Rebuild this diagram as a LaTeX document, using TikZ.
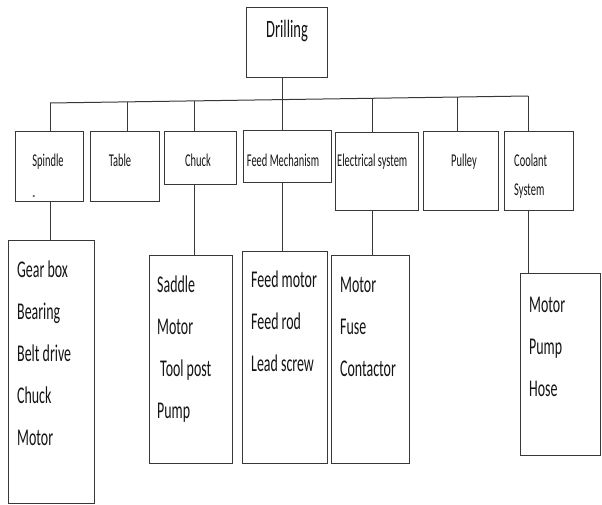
\documentclass[tikz,border=0pt]{standalone}
\usepackage{fontspec}
\usepackage{graphicx}
\setmainfont{Carlito}
\newcommand\sq[1]{\scalebox{0.58}[1]{#1}}
\tikzset{
  box/.style={draw=black!78, line width=1pt, rectangle, inner sep=0pt,
    append after command={[draw=black!55, line width=1.3pt]
      ([yshift=-1pt]\tikzlastnode.south west) -- ([yshift=-1pt]\tikzlastnode.south east)}},
  link/.style={draw=black!78, line width=1pt},
  topt/.style={text=black!92, inner sep=0pt, font=\fontsize{25}{30}\selectfont},
  lvone/.style={text=black!92, inner sep=0pt, font=\fontsize{18}{22}\selectfont},
  lvtwo/.style={text=black!92, inner sep=0pt, font=\fontsize{24}{29}\selectfont, anchor=base west},
}
\begin{document}
\begin{tikzpicture}[x=1pt,y=-1pt]
\useasboundingbox (0,0) rectangle (602,505);
% boxes
\node[box, minimum width=81pt, minimum height=70pt] (drill) at (286.5,43) {};
\node[box, minimum width=68pt, minimum height=70pt] (spindle) at (49,167) {};
\node[box, minimum width=69pt, minimum height=70pt] (table) at (124.5,167) {};
\node[box, minimum width=72pt, minimum height=53pt] (chuck) at (200,158.5) {};
\node[box, minimum width=88pt, minimum height=52pt] (feed) at (287,157) {};
\node[box, minimum width=83pt, minimum height=77pt] (elec) at (376.5,171.5) {};
\node[box, minimum width=75pt, minimum height=78pt] (pulley) at (460.5,171) {};
\node[box, minimum width=69pt, minimum height=78pt] (cool) at (538.5,171) {};
\node[box, minimum width=86pt, minimum height=263pt] (spsub) at (51,371.5) {};
\node[box, minimum width=83pt, minimum height=208pt] (chsub) at (190.5,359) {};
\node[box, minimum width=85pt, minimum height=212pt] (fdsub) at (284.5,357) {};
\node[box, minimum width=78pt, minimum height=208pt] (elsub) at (370,359) {};
\node[box, minimum width=80pt, minimum height=182pt] (clsub) at (560,364) {};
% bus
\coordinate (bsp) at (50,103);
\coordinate (btb) at (127,101.9);
\coordinate (bch) at (194,100.9);
\coordinate (bfd) at (282,99.6);
\coordinate (bel) at (372,98.3);
\coordinate (bpu) at (457,97);
\coordinate (bcl) at (528,96);
\draw[link] (bsp) -- (bcl);
\draw[link] (bfd |- drill.south) -- (bfd);
\draw[link] (bsp) -- (bsp |- spindle.north);
\draw[link] (btb) -- (btb |- table.north);
\draw[link] (bch) -- (bch |- chuck.north);
\draw[link] (bfd) -- (bfd |- feed.north);
\draw[link] (bel) -- (bel |- elec.north);
\draw[link] (bpu) -- (bpu |- pulley.north);
\draw[link] (bcl) -- (bcl |- cool.north);
% drops to sub boxes
\draw[link] (bsp |- spindle.south) -- (bsp |- spsub.north);
\draw[link] (bch |- chuck.south) -- (bch |- chsub.north);
\draw[link] (bfd |- feed.south) -- (bfd |- fdsub.north);
\draw[link] (bel |- elec.south) -- (bel |- elsub.north);
\draw[link] (bcl |- cool.south) -- (bcl |- clsub.north);
% texts
\node[topt, anchor=base] (tdrill) at (287,38) {\sq{Drilling}};
\node[lvone, anchor=base] (tsp) at (48,167) {\sq{Spindle}};
\node[lvone, anchor=base, text=black!60] (tdot) at (34,197) {.};
\node[lvone, anchor=base] (ttb) at (120,167) {\sq{Table}};
\node[lvone, anchor=base] (tch) at (198,167) {\sq{Chuck}};
\node[lvone, anchor=base] (tfd) at (283,167) {\sq{Feed Mechanism}};
\node[lvone, anchor=base west] (tel) at (337,167) {\sq{Electrical system}};
\node[lvone, anchor=base] (tpu) at (464,167) {\sq{Pulley}};
\node[lvone, anchor=base west] (tcl1) at (514,167) {\sq{Coolant}};
\node[lvone, anchor=base west] (tcl2) at (514,196) {\sq{System}};
% spindle list
\node[lvtwo] (s1) at (17,277) {\sq{Gear box}};
\node[lvtwo] (s2) at (17,319) {\sq{Bearing}};
\node[lvtwo] (s3) at (17,361) {\sq{Belt drive}};
\node[lvtwo] (s4) at (17,403) {\sq{Chuck}};
\node[lvtwo] (s5) at (17,445) {\sq{Motor}};
% chuck list
\node[lvtwo] (c1) at (157,292) {\sq{Saddle}};
\node[lvtwo] (c2) at (157,334) {\sq{Motor}};
\node[lvtwo] (c3) at (160,376) {\sq{Tool post}};
\node[lvtwo] (c4) at (157,418) {\sq{Pump}};
% feed list
\node[lvtwo] (f1) at (251,287) {\sq{Feed motor}};
\node[lvtwo] (f2) at (251,329) {\sq{Feed rod}};
\node[lvtwo] (f3) at (251,371) {\sq{Lead screw}};
% electrical list
\node[lvtwo] (e1) at (340,292) {\sq{Motor}};
\node[lvtwo] (e2) at (340,334) {\sq{Fuse}};
\node[lvtwo] (e3) at (340,376) {\sq{Contactor}};
% coolant list
\node[lvtwo] (k1) at (529,312) {\sq{Motor}};
\node[lvtwo] (k2) at (529,354) {\sq{Pump}};
\node[lvtwo] (k3) at (529,396) {\sq{Hose}};
\end{tikzpicture}
\end{document}
